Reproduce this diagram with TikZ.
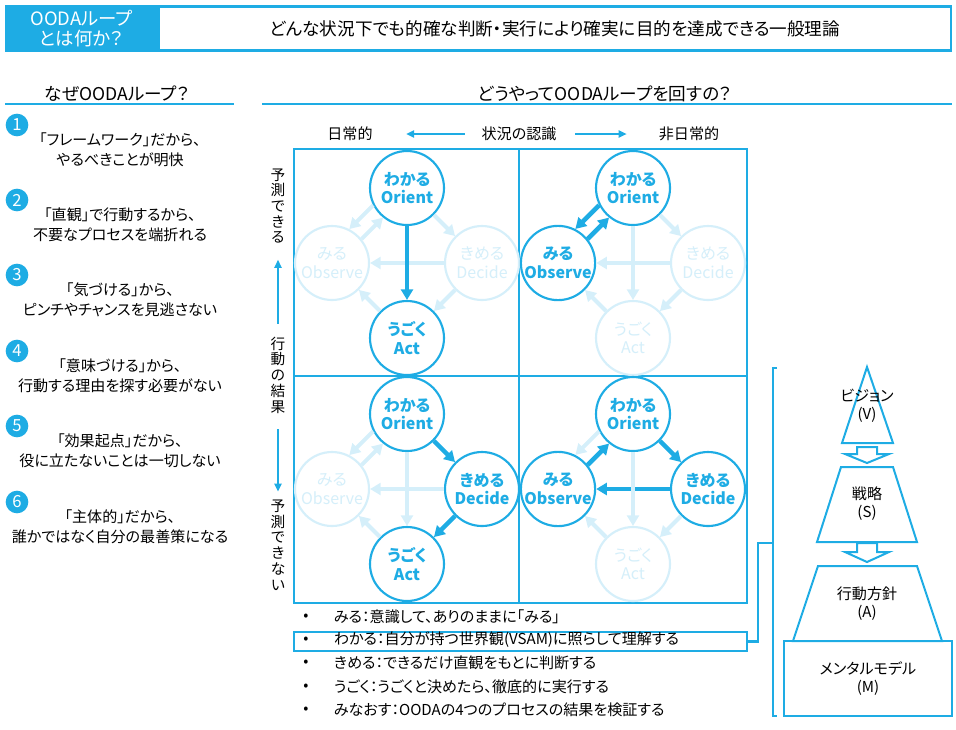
\documentclass[tikz,border=0pt]{standalone}
\usepackage{fontspec}
\setmainfont[RawFeature=+palt]{Noto Sans CJK JP}
\usepackage{tikz}
\usetikzlibrary{arrows.meta,positioning}
\definecolor{OodaBlue}{HTML}{1EACE4}
\definecolor{PaleBlue}{HTML}{D5EFFA}

\begin{document}
\begin{tikzpicture}[x=0.75pt,y=-0.75pt,
  headtext/.style={font=\fontsize{13.2}{15.5}\selectfont,align=center,inner sep=0pt},
  plain/.style={font=\fontsize{11.3}{15}\selectfont,align=center,inner sep=2pt},
  vertical/.style={font=\fontsize{11}{11.8}\selectfont,align=center,inner sep=2pt},
  numdot/.style={circle,fill=OodaBlue,text=white,minimum size=17pt,inner sep=0pt,font=\fontsize{12.5}{12.5}\selectfont},
  rule/.style={draw=OodaBlue,line width=1.5pt},
  axisarrow/.style={draw=OodaBlue,line width=1.1pt,-{Triangle[length=6pt,width=5.5pt]}},
  oodanode/.style={circle,draw=PaleBlue,fill=white,text=PaleBlue,line width=1.6pt,
    minimum size=55.5pt,inner sep=0pt,align=center,font=\fontsize{12}{14}\selectfont},
  litnode/.style={draw=OodaBlue,text=OodaBlue,font=\fontsize{12}{14}\selectfont\bfseries},
  paleflow/.style={draw=PaleBlue,line width=3pt,-{Triangle[length=8pt,width=9pt]}},
  litflow/.style={draw=OodaBlue,line width=3.4pt},
  % lit parts of each quadrant
  lit-a-o/.style=litnode, lit-a-a/.style=litnode, lit-a-OA/.style=litflow,
  lit-b-o/.style=litnode, lit-b-b/.style=litnode, lit-b-OB/.style=litflow, lit-b-BO/.style=litflow,
  lit-c-o/.style=litnode, lit-c-d/.style=litnode, lit-c-a/.style=litnode,
  lit-c-OD/.style=litflow, lit-c-DA/.style=litflow,
  lit-d-o/.style=litnode, lit-d-b/.style=litnode, lit-d-d/.style=litnode,
  lit-d-OD/.style=litflow, lit-d-DB/.style=litflow, lit-d-BO/.style=litflow,
  pyramid/.style={draw=OodaBlue,line width=1.5pt},
  pyrtext/.style={font=\fontsize{11.3}{13.5}\selectfont,align=center,inner sep=1pt}]
\useasboundingbox (0,0) rectangle (956,729);

% header
\node[draw=OodaBlue,line width=2pt,minimum width=594pt,minimum height=33pt,headtext] (theory) at (555,28.5)
  {どんな状況下でも的確な判断・実行により確実に目的を達成できる一般理論};
\node[fill=OodaBlue,text=white,minimum width=114.75pt,minimum height=35.25pt,headtext,
  font=\fontsize{13.8}{15.5}\selectfont] (what) at (81.5,28.5) {OODAループ\\とは何か？};

% section titles
\node[headtext] (why) at (117,94) {なぜOODAループ？};
\draw[rule] (5,103.5) -- (234,103.5);
\node[headtext] (how) at (605,94) {どうやってOODAループを回すの？};
\draw[rule] (262,103.5) -- (952,103.5);

% reasons
\foreach \n/\y/\txa/\txb in {1/125/「フレームワーク」だから、/やるべきことが明快,
    2/200/「直観」で行動するから、/不要なプロセスを端折れる,
    3/275/「気づける」から、/ピンチやチャンスを見逃さない,
    4/351/「意味づける」から、/行動する理由を探す必要がない,
    5/426/「効果起点」だから、/役に立たないことは一切しない,
    6/502/「主体的」だから、/誰かではなく自分の最善策になる}{
  \node[numdot] (num\n) at (17,\y) {\n};
  \node[plain] (reason\n) at (120,\y+25) {\txa\\\txb};
}

% grid
\draw[OodaBlue,line width=2pt] (294,149) rectangle (747,603);
\draw[OodaBlue,line width=1.6pt] (519,149) -- (519,603) (294,376) -- (747,376);

% axes
\node[plain] (daily) at (350,134) {日常的};
\node[plain] (aware) at (519,134) {状況の認識};
\node[plain] (nondaily) at (689,134) {非日常的};
\draw[axisarrow,shorten <=10.5pt,shorten >=23pt] (aware) -- (daily);
\draw[axisarrow,shorten <=12pt,shorten >=22pt] (aware) -- (nondaily);
\node[vertical] (foreseen) at (278,206) {予\\測\\で\\き\\る};
\node[vertical] (outcome) at (278,375) {行\\動\\の\\結\\果};
\node[vertical] (unforeseen) at (278,545) {予\\測\\で\\き\\な\\い};
\draw[axisarrow,shorten <=7.5pt,shorten >=10pt] (outcome) -- (foreseen);
\draw[axisarrow,shorten <=10pt,shorten >=4pt] (outcome) -- (unforeseen);

% four OODA loops
\foreach \q/\cx/\cy in {a/407/263, b/633/263, c/407/489, d/633/489}{
  \node[oodanode,lit-\q-o/.try] (\q-o) at (\cx,\cy-75) {わかる\\Orient};
  \node[oodanode,lit-\q-b/.try] (\q-b) at (\cx-75,\cy) {みる\\Observe};
  \node[oodanode,lit-\q-d/.try] (\q-d) at (\cx+75,\cy) {きめる\\Decide};
  \node[oodanode,lit-\q-a/.try] (\q-a) at (\cx,\cy+75) {うごく\\Act};
  \foreach \src/\dst/\lk in {o.207/b.63/OB, b.39/o.231/BO, o.315/d.135/OD, d.225/a.45/DA,
      a.135/b.315/AB, d.west/b.east/DB, o.south/a.north/OA}
    \draw[paleflow,lit-\q-\lk/.try] (\q-\src) -- (\q-\dst);
}

% steps
\node[draw=OodaBlue,line width=1.6pt,minimum width=339.75pt,minimum height=14.25pt] (vsam) at (520.5,641.5) {};
\foreach \i/\y/\txt in {1/617/みる：意識して、ありのままに「みる」,
    2/640/わかる：自分が持つ世界観(VSAM)に照らして理解する,
    3/663/きめる：できるだけ直観をもとに判断する,
    4/687/うごく：うごくと決めたら、徹底的に実行する,
    5/710/みなおす：OODAの4つのプロセスの結果を検証する}{
  \node[plain] (dot\i) at (306,\y) {•};
  \node[plain,anchor=west] (step\i) at (331,\y) {\txt};
}

% VSAM pyramid
\coordinate (bracket) at (773,543);
\draw[OodaBlue,line width=1.6pt] (vsam.east) -- ++(10,0) |- (bracket);
\draw[OodaBlue,line width=1.6pt] (777,368) -- (773,368) -- (773,716) -- (777,716);
\draw[pyramid] (867,367) -- (893,443) -- (842,443) -- cycle;
\draw[pyramid] (857,447) -- (877,447) -- (877,454) -- (889,454) -- (867,463) -- (845,454) -- (857,454) -- cycle;
\draw[pyramid] (841,467) -- (893,467) -- (917,542) -- (817,542) -- cycle;
\draw[pyramid] (857,543) -- (877,543) -- (877,552) -- (889,552) -- (867,562) -- (845,552) -- (857,552) -- cycle;
\draw[pyramid] (818,566) -- (917,566) -- (942,641) -- (793,641) -- cycle;
\node[pyramid,pyrtext,minimum width=126pt,minimum height=56.25pt] (mental) at (868,678.5) {メンタルモデル\\(M)};
\node[pyrtext] (vision) at (867,406) {ビジョン\\(V)};
\node[pyrtext] (strategy) at (867,504) {戦略\\(S)};
\node[pyrtext] (policy) at (867,604) {行動方針\\(A)};
\end{tikzpicture}
\end{document}
